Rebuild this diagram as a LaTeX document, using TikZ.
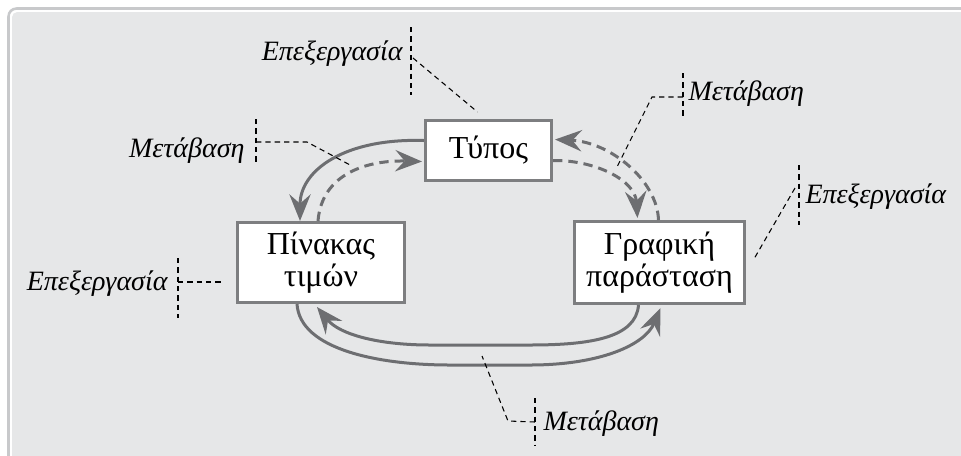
\documentclass[tikz,border=0pt]{standalone}
\usepackage{fontspec}
\setmainfont{Liberation Serif}
\usetikzlibrary{calc,arrows.meta}

\definecolor{bggray}{RGB}{230,231,232}
\definecolor{framegray}{RGB}{200,201,203}
\definecolor{boxgray}{RGB}{125,126,128}
\definecolor{arrowgray}{RGB}{109,110,113}

\tikzset{every picture/.style={line width=0.75pt}}
\tikzset{
  box/.style={draw=boxgray, fill=white, line width=2.3pt, align=center, inner sep=0pt,
    font=\fontsize{24}{24}\selectfont},
  lbltext/.style={inner sep=0pt, font=\fontsize{21}{24}\selectfont\itshape},
  leader/.style={draw=black, line width=0.8pt, dash pattern=on 4pt off 3pt},
  flow/.style={draw=arrowgray, line width=2.25pt, -{Stealth[length=20pt,width=16pt,inset=7pt]}},
  flowdash/.style={flow, dash pattern=on 7pt off 4.5pt},
}

\begin{document}
\begin{tikzpicture}[x=0.75pt,y=0.75pt,yscale=-1,xscale=1]
\useasboundingbox (0,0) rectangle (961,455);

%Frame
\draw [framegray, line width=1.9pt, fill=white, rounded corners=6] (8.5,8.5) rectangle (1000,500);
\fill [bggray, rounded corners=4] (12,12) rectangle (1000,500);

%Boxes
\node [box, minimum width=94.5pt, minimum height=45pt] (typos) at (488.5,150.5) {Τύπος};
\node [box, minimum width=125.25pt, minimum height=60pt] (pinakas) at (321,262.5) {Πίνακας\\τιμών};
\node [box, minimum width=127.5pt, minimum height=61.5pt] (grafiki) at (659.5,262.5) {Γραφική\\παράσταση};

%Curve Lines: Τύπος <-> Πίνακας
\draw [flow] ($(typos.west)+(0,-10)$) .. controls (345,138) and (300,170) .. ($(pinakas.north)+(-21,0)$);
\draw [flowdash] ($(pinakas.north)+(-3,0)$) .. controls (322,172) and (370,160) .. ($(typos.west)+(-2,11)$);
%Curve Lines: Τύπος <-> Γραφική
\draw [flowdash] ($(typos.east)+(0,10)$) .. controls (595,160) and (635,180) .. ($(grafiki.north)+(-22,-2)$);
\draw [flowdash] ($(grafiki.north)+(-1,0)$) .. controls (657,180) and (610,142) .. ($(typos.east)+(2,-11)$);
%Curve Lines: Πίνακας <-> Γραφική
\draw [flow] ($(grafiki.south)+(-21,0)$) .. controls (636,338) and (590,345) .. (530,345) -- (430,345) .. controls (380,345) and (340,335) .. ($(pinakas.south)+(-4,3)$);
\draw [flow] ($(pinakas.south)+(-24,0)$) .. controls (300,350) and (380,365) .. (450,365) -- (530,365) .. controls (600,365) and (645,345) .. ($(grafiki.south)+(1,3)$);

% Text Node
\node [lbltext, anchor=base east] (edit1) at (403,60) {Επεξεργασία};
\draw [leader] (411,27) -- (411,95);
\coordinate (t1) at (413,58);
\draw [leader] (t1) -- ($(typos.north)+(-11,-7)$);

% Text Node
\node [lbltext, anchor=base east] (trans1) at (245,157) {Μετάβαση};
\draw [leader] (256,119) -- (256,165);
\coordinate (t2) at (256,142);
\coordinate (e2) at (352,166);
\draw [leader] (t2) -- (307,142) -- (e2);

% Text Node
\node [lbltext, anchor=base west] (trans2) at (688,100) {Μετάβαση};
\draw [leader] (683,73) -- (683,118);
\coordinate (t3) at (683,97);
\coordinate (e3) at (617,167);
\draw [leader] (t3) -- (652,97) -- (e3);

% Text Node
\node [lbltext, anchor=base west] (edit2) at (805,203) {Επεξεργασία};
\draw [leader] (799,165) -- (799,225);
\coordinate (t4) at (795,188);
\draw [leader] (t4) -- ($(grafiki.east)+(8.5,-4.5)$);

% Text Node
\node [lbltext, anchor=base east] (edit3) at (168,290) {Επεξεργασία};
\draw [leader] (178,258) -- (178,318);
\coordinate (t5) at (178,282);
\draw [leader] (t5) -- ($(pinakas.west)+(-12.5,19.5)$);

% Text Node
\node [lbltext, anchor=base west] (trans3) at (543,430) {Μετάβαση};
\draw [leader] (535,398) -- (535,445);
\coordinate (t6) at (535,422);
\coordinate (e6) at (482,356);
\draw [leader] (t6) -- (508,421) -- (e6);

\end{tikzpicture}
\end{document}
